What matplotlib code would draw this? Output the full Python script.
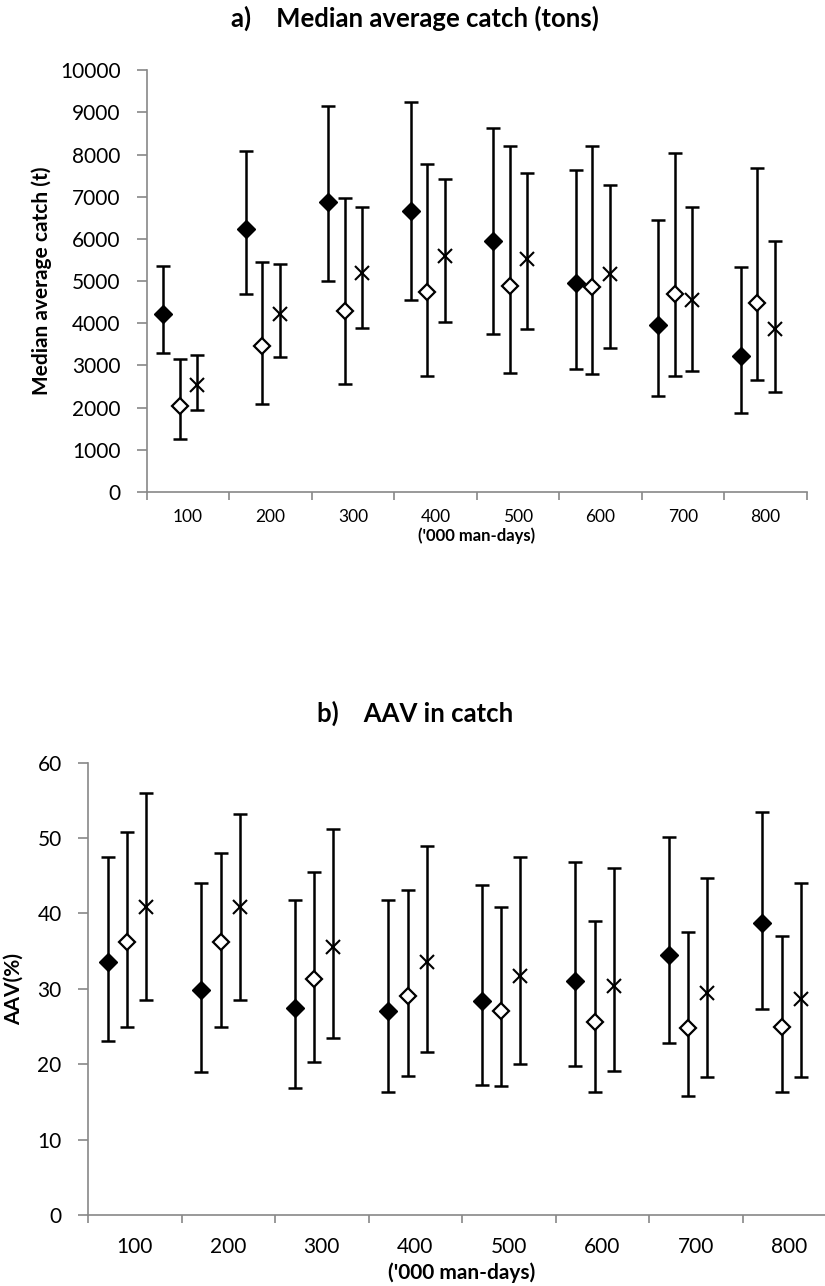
import matplotlib.pyplot as plt
import numpy as np

plt.rcParams['font.family'] = ['Lato', 'DejaVu Sans']

effort = ['100', '200', '300', '400', '500', '600', '700', '800']

# a) median average catch (t): median, lower, upper for three series
catch_filled = [4220, 6230, 6880, 6670, 5940, 4950, 3960, 3230]
catch_filled_lo = [3290, 4700, 5000, 4550, 3750, 2920, 2280, 1880]
catch_filled_hi = [5370, 8090, 9160, 9240, 8620, 7630, 6450, 5330]

catch_open = [2040, 3450, 4300, 4740, 4890, 4850, 4690, 4470]
catch_open_lo = [1250, 2090, 2550, 2750, 2830, 2790, 2750, 2660]
catch_open_hi = [3150, 5450, 6960, 7780, 8200, 8200, 8030, 7670]

catch_x = [2540, 4210, 5190, 5600, 5530, 5160, 4550, 3870]
catch_x_lo = [1950, 3210, 3880, 4040, 3870, 3420, 2870, 2370]
catch_x_hi = [3250, 5410, 6750, 7420, 7570, 7290, 6750, 5950]

# b) AAV in catch (%)
aav_filled = [33.6, 29.8, 27.5, 27.1, 28.4, 31.0, 34.5, 38.8]
aav_filled_lo = [23.1, 19.0, 16.8, 16.3, 17.3, 19.8, 22.8, 27.3]
aav_filled_hi = [47.5, 44.0, 41.8, 41.8, 43.8, 46.8, 50.2, 53.4]

aav_open = [36.2, 36.2, 31.3, 29.0, 27.1, 25.6, 24.8, 25.0]
aav_open_lo = [25.0, 25.0, 20.3, 18.5, 17.1, 16.3, 15.8, 16.3]
aav_open_hi = [50.8, 48.0, 45.5, 43.1, 40.8, 39.0, 37.5, 37.0]

aav_x = [40.8, 40.8, 35.5, 33.5, 31.7, 30.4, 29.4, 28.7]
aav_x_lo = [28.5, 28.5, 23.5, 21.6, 20.0, 19.1, 18.3, 18.3]
aav_x_hi = [56.0, 53.2, 51.2, 49.0, 47.5, 46.0, 44.7, 44.0]


def draw_series(ax, pos, mid, lo, hi, style):
    mid = np.array(mid)
    err = [mid - np.array(lo), np.array(hi) - mid]
    ax.errorbar(pos, mid, yerr=err, fmt='none', ecolor='black',
                elinewidth=1.8, capsize=5, capthick=1.8, zorder=2)
    if style == 'filled':
        ax.plot(pos, mid, 'D', ms=9, mfc='black', mec='black', ls='none', zorder=3)
    elif style == 'open':
        ax.plot(pos, mid, 'D', ms=8, mfc='white', mec='black', mew=1.6, ls='none', zorder=3)
    else:
        ax.plot(pos, mid, 'x', ms=10, mec='black', mew=1.5, ls='none', zorder=3)


def style_axes(ax, tick_size, pad):
    n = len(effort)
    ax.set_xlim(0, n)
    ax.set_xticks(np.arange(n + 1))
    ax.set_xticklabels([])
    ax.set_xticks(np.arange(n) + 0.5, minor=True)
    ax.set_xticklabels(effort, minor=True, fontsize=tick_size)
    ax.tick_params(axis='x', which='minor', length=0, pad=pad)
    ax.tick_params(axis='x', which='major', length=6, color='#888888', width=1.2)
    ax.tick_params(axis='y', length=7, color='#888888', width=1.2, labelsize=15, pad=12)
    for s in ['top', 'right']:
        ax.spines[s].set_visible(False)
    for s in ['left', 'bottom']:
        ax.spines[s].set_color('#888888')
        ax.spines[s].set_linewidth(1.2)


fig = plt.figure(figsize=(8.25, 12.86), dpi=100)

x = np.arange(len(effort)) + 0.5

ax1 = fig.add_axes([0.178, 0.6174, 0.80, 0.328])
draw_series(ax1, x - 0.30, catch_filled, catch_filled_lo, catch_filled_hi, 'filled')
draw_series(ax1, x - 0.10, catch_open, catch_open_lo, catch_open_hi, 'open')
draw_series(ax1, x + 0.11, catch_x, catch_x_lo, catch_x_hi, 'x')
ax1.set_ylim(0, 10000)
ax1.set_yticks(np.arange(0, 10001, 1000))
style_axes(ax1, 12.5, 12)
ax1.set_ylabel('Median average catch (t)', fontsize=15, fontweight='bold', labelpad=6)
ax1.set_xlabel("('000 man-days)", fontsize=12, fontweight='bold', labelpad=2)
fig.text(0.503, 0.986, 'a)    Median average catch (tons)', ha='center', va='center',
         fontsize=18.5, fontweight='bold')

ax2 = fig.add_axes([0.1067, 0.0552, 0.9067, 0.3517])
draw_series(ax2, x - 0.29, aav_filled, aav_filled_lo, aav_filled_hi, 'filled')
draw_series(ax2, x - 0.08, aav_open, aav_open_lo, aav_open_hi, 'open')
draw_series(ax2, x + 0.12, aav_x, aav_x_lo, aav_x_hi, 'x')
ax2.set_ylim(0, 60)
ax2.set_yticks(np.arange(0, 61, 10))
style_axes(ax2, 15, 16)
ax2.set_ylabel('AAV(%)', fontsize=15, fontweight='bold', labelpad=10)
ax2.set_xlabel("('000 man-days)", fontsize=15, fontweight='bold', labelpad=4)
fig.text(0.503, 0.4455, 'b)    AAV in catch', ha='center', va='center',
         fontsize=18.5, fontweight='bold')

plt.savefig('out.png', dpi=100)
